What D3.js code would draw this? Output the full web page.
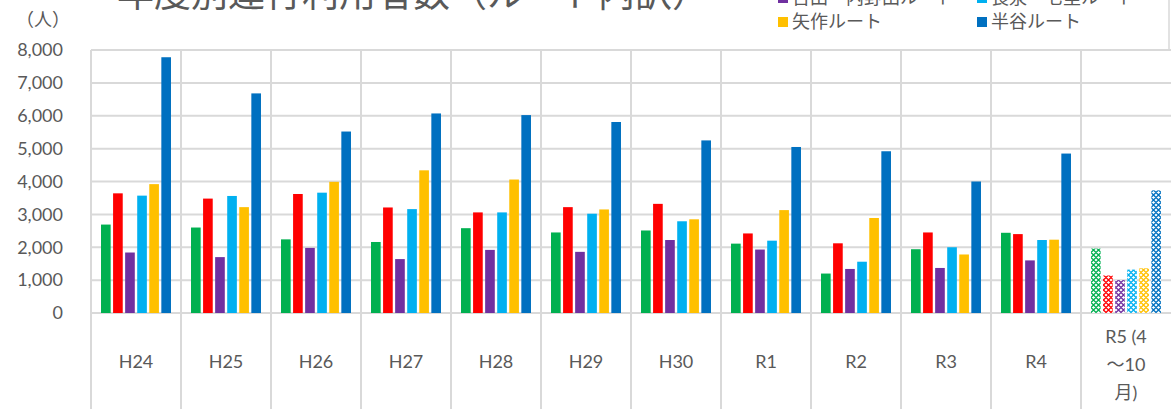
<!DOCTYPE html>
<html lang="ja">
<head>
<meta charset="UTF-8">
<title>年度別運行利用者数（ルート内訳）</title>
<script src="https://d3js.org/d3.v7.min.js"></script>
<style>
  body { margin: 0; background: #fff; }
  svg text { font-family: Lato, "Noto Sans CJK JP", sans-serif; fill: #595959; }
</style>
</head>
<body>
<script>
// 年度
const categories = ["H24", "H25", "H26", "H27", "H28", "H29", "H30", "R1", "R2", "R3", "R4", "R5 (4～10月)"];
const categoryLines = [["H24"], ["H25"], ["H26"], ["H27"], ["H28"], ["H29"], ["H30"], ["R1"], ["R2"], ["R3"], ["R4"], ["R5 (4", "～10", "月)"]];

// ルート名（上の2段は画像の外で切れている）
const routes = ["吉田ルート", "野田ルート", "吉田・内野田ルート", "長泉・七里ルート", "矢作ルート", "半谷ルート"];
const colors = ["#00b050", "#ff0000", "#7030a0", "#00b0f0", "#ffc000", "#0070c0"];

// 利用者数（人）
const greenRoute  = [2690, 2600, 2240, 2160, 2580, 2450, 2510, 2110, 1200, 1940, 2440, 1960];
const redRoute    = [3640, 3480, 3620, 3210, 3060, 3220, 3320, 2420, 2120, 2450, 2400, 1140];
const purpleRoute = [1840, 1700, 1980, 1640, 1920, 1860, 2220, 1930, 1340, 1370, 1600, 1000];
const cyanRoute   = [3570, 3560, 3660, 3160, 3060, 3020, 2790, 2200, 1560, 2000, 2220, 1320];
const yachiRoute  = [3920, 3220, 3990, 4340, 4060, 3150, 2850, 3130, 2890, 1780, 2230, 1360];
const hangaiRoute = [7780, 6680, 5520, 6070, 6020, 5810, 5250, 5050, 4920, 4000, 4850, 3730];
const series = [greenRoute, redRoute, purpleRoute, cyanRoute, yachiRoute, hangaiRoute];

const yTicks = [0, 1000, 2000, 3000, 4000, 5000, 6000, 7000, 8000];

const width = 1172, height = 409;
const plot = {left: 91, right: 1171, top: 50, bottom: 313};

const svg = d3.select("body").append("svg")
  .attr("width", width)
  .attr("height", height);

// R5 は途中集計なので模様付き
const defs = svg.append("defs");
colors.forEach((c, i) => {
  const p = defs.append("pattern")
    .attr("id", "pat" + i)
    .attr("width", 5).attr("height", 5)
    .attr("patternUnits", "userSpaceOnUse");
  p.append("rect").attr("width", 5).attr("height", 5).attr("fill", "#fff");
  p.append("path")
    .attr("d", "M2.5,0L5,2.5L2.5,5L0,2.5Z")
    .attr("fill", "none")
    .attr("stroke", c)
    .attr("stroke-width", 1.3);
});

const x0 = d3.scaleBand()
  .domain(categories)
  .range([plot.left, plot.right]);

const x1 = d3.scaleBand()
  .domain(d3.range(routes.length))
  .range([0, x0.bandwidth()])
  .paddingInner(0.2)
  .paddingOuter(0.83);

const y = d3.scaleLinear()
  .domain([0, 8000])
  .range([plot.bottom, plot.top]);

// 横グリッド
svg.append("g")
  .selectAll("line")
  .data(yTicks)
  .join("line")
  .attr("x1", plot.left).attr("x2", plot.right)
  .attr("y1", d => y(d)).attr("y2", d => y(d))
  .attr("stroke", "#d9d9d9")
  .attr("stroke-width", 2);

// 縦の区切り線
svg.append("g")
  .selectAll("line")
  .data(categories)
  .join("line")
  .attr("x1", d => x0(d)).attr("x2", d => x0(d))
  .attr("y1", plot.top).attr("y2", height)
  .attr("stroke", "#d9d9d9")
  .attr("stroke-width", 2);

// グラフ枠
svg.append("line")
  .attr("x1", 1169).attr("x2", 1169)
  .attr("y1", 0).attr("y2", plot.top)
  .attr("stroke", "#d9d9d9")
  .attr("stroke-width", 1.5);

// Y軸
const yAxis = svg.append("g")
  .attr("transform", "translate(" + 63 + ",0)")
  .call(d3.axisLeft(y).tickValues(yTicks).tickFormat(d3.format(",")).tickSize(0).tickPadding(0));
yAxis.select(".domain").remove();
yAxis.selectAll("text")
  .style("font-size", "18px")
  .attr("fill", "#595959");

svg.append("text")
  .attr("x", 43).attr("y", 26)
  .attr("text-anchor", "middle")
  .style("font-size", "18px")
  .text("（人）");

// 棒
const groups = svg.append("g")
  .selectAll("g")
  .data(categories)
  .join("g")
  .attr("transform", d => "translate(" + x0(d) + ",0)");

groups.selectAll("rect")
  .data((d, ci) => series.map((s, si) => ({si: si, v: s[ci], last: ci === categories.length - 1})))
  .join("rect")
  .attr("x", d => x1(d.si))
  .attr("width", x1.bandwidth())
  .attr("y", d => y(d.v))
  .attr("height", d => y(0) - y(d.v))
  .attr("fill", d => d.last ? "url(#pat" + d.si + ")" : colors[d.si]);

// X軸ラベル
const xLabels = svg.append("g")
  .selectAll("text")
  .data(categories)
  .join("text")
  .attr("x", d => x0(d) + x0.bandwidth() / 2)
  .attr("text-anchor", "middle")
  .style("font-size", "18px");

xLabels.each(function(d, i) {
  const lines = categoryLines[i];
  const t = d3.select(this);
  const y0 = lines.length === 1 ? 368 : 343;
  lines.forEach((ln, k) => {
    t.append("tspan")
      .attr("x", x0(d) + x0.bandwidth() / 2)
      .attr("y", y0 + k * 28)
      .text(ln);
  });
});

// タイトル（上部が切れている）
svg.append("text")
  .attr("x", 413).attr("y", 7)
  .attr("text-anchor", "middle")
  .style("font-size", "37px")
  .text("年度別運行利用者数（ルート内訳）");

// 凡例（3段×2列、上の段は画面外）
const legend = svg.append("g")
  .selectAll("g")
  .data(routes)
  .join("g")
  .attr("transform", (d, i) => "translate(" + (i % 2 === 0 ? 778 : 977) + "," + (22 - (2 - Math.floor(i / 2)) * 24) + ")");

legend.append("rect")
  .attr("x", 0).attr("y", -5)
  .attr("width", 10).attr("height", 10)
  .attr("fill", (d, i) => colors[i]);

legend.append("text")
  .attr("x", 14).attr("y", 6)
  .style("font-size", "18px")
  .text(d => d);
</script>
</body>
</html>
